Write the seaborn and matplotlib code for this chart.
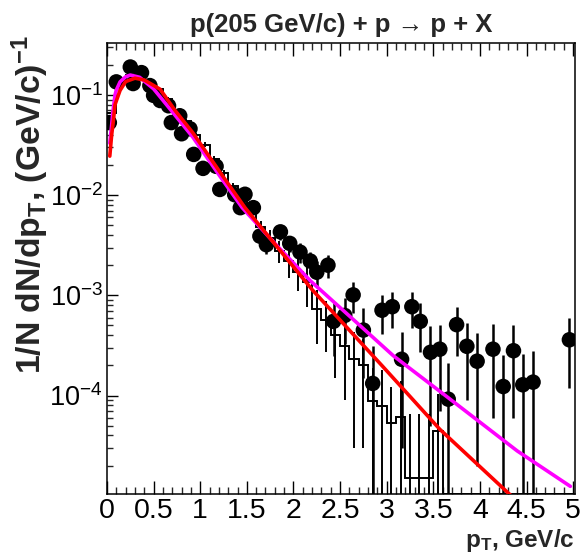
import numpy as np
import pandas as pd
import matplotlib
matplotlib.use("Agg")
import matplotlib.pyplot as plt
import seaborn as sns
from matplotlib.ticker import LogLocator, MultipleLocator, FuncFormatter, NullFormatter, LogFormatterSciNotation

# ---------------- data ----------------
pt_data = [0.025, 0.10, 0.25, 0.28, 0.37, 0.46, 0.50, 0.57, 0.66, 0.69, 0.78, 0.80, 0.89, 0.93,
           1.03, 1.17, 1.21, 1.37, 1.43, 1.48, 1.57, 1.64, 1.71, 1.86, 1.96, 2.07, 2.18, 2.25,
           2.37, 2.43, 2.55, 2.64, 2.75, 2.85, 2.95, 3.06, 3.16, 3.27, 3.36, 3.47, 3.57, 3.66,
           3.75, 3.86, 3.97, 4.14, 4.25, 4.36, 4.46, 4.57, 4.96]
y_data = [0.053, 0.135, 0.19, 0.13, 0.167, 0.124, 0.099, 0.088, 0.078, 0.053, 0.062, 0.041, 0.046, 0.0255,
          0.0185, 0.0194, 0.0114, 0.0101, 0.0075, 0.0102, 0.0075, 0.0039, 0.0032, 0.0043, 0.0033, 0.0027, 0.0022, 0.0017,
          0.0020, 5.5e-4, 6.3e-4, 1.01e-3, 4.5e-4, 1.32e-4, 7.1e-4, 7.7e-4, 2.3e-4, 7.7e-4, 5.5e-4, 2.7e-4, 2.9e-4, 9.2e-5,
          5.1e-4, 3.1e-4, 2.2e-4, 2.9e-4, 1.23e-4, 2.8e-4, 1.28e-4, 1.36e-4, 3.6e-4]
err_data = [0.003, 0.006, 0.008, 0.006, 0.007, 0.005, 0.004, 0.004, 0.004, 0.003, 0.003, 0.002, 0.002, 0.0015,
            0.0012, 0.0012, 0.0009, 0.0009, 0.0008, 0.0009, 0.0009, 0.0006, 0.0006, 0.0007, 0.0006, 0.0006, 0.0005, 0.0005,
            0.0005, 3.0e-4, 3.0e-4, 3.5e-4, 3.0e-4, 1.8e-4, 3.0e-4, 3.0e-4, 2.0e-4, 3.0e-4, 2.8e-4, 2.2e-4, 2.2e-4, 1.2e-4,
            2.6e-4, 2.2e-4, 2.0e-4, 2.3e-4, 1.3e-4, 2.2e-4, 1.3e-4, 1.4e-4, 2.4e-4]

# histogram, bins of 0.1 GeV/c from 0 to 5
hist_vals = [0.066, 0.14, 0.158, 0.15, 0.132, 0.114, 0.092, 0.070, 0.055, 0.040,
             0.032, 0.023, 0.0167, 0.0123, 0.0092, 0.0066, 0.0048, 0.0037, 0.0028, 0.0022,
             0.0017, 0.00137, 0.00073, 0.00057, 0.00040, 0.00031, 0.00023, 0.00020, 8.8e-5, 7.9e-5,
             5.3e-5, 6.1e-5, 1.5e-5, 1.5e-5, 1.5e-5, 4.4e-5, 0, 0, 0, 0,
             0, 0, 0, 0, 0, 0, 0, 0, 0, 0]
hist_err = [0.003, 0.005, 0.005, 0.005, 0.005, 0.004, 0.004, 0.003, 0.003, 0.002,
            0.002, 0.0015, 0.0012, 0.001, 0.0008, 0.0008, 0.0007, 0.0008, 0.0007, 0.0007,
            0.0006, 0.0006, 0.0004, 0.0003, 0.00025, 0.00022, 0.0002, 0.00017, 0.0001, 0.0001,
            7e-5, 8e-5, 5e-5, 5e-5, 5e-5, 6e-5, 0, 0, 0, 0,
            0, 0, 0, 0, 0, 0, 0, 0, 0, 0]
hist_edges = np.round(np.arange(0, 5.0001, 0.1), 2)

# fitted curves
mag_x = [0.03, 0.05, 0.061, 0.086, 0.10, 0.14, 0.20, 0.25, 0.35, 0.50, 0.70, 0.92, 1.20, 1.45, 1.80,
         2.18, 2.61, 3.07, 3.68, 4.40, 4.97]
mag_y = [0.033, 0.05, 0.065, 0.100, 0.112, 0.135, 0.152, 0.158, 0.150, 0.115, 0.068, 0.038, 0.016, 0.0075, 0.0033,
         1.4e-3, 6.1e-4, 2.5e-4, 9.2e-5, 2.8e-5, 1.24e-5]
red_x = [0.03, 0.05, 0.068, 0.086, 0.14, 0.20, 0.30, 0.40, 0.57, 0.73, 0.92, 1.20, 1.48, 2.20, 2.96, 3.57, 4.34]
red_y = [0.0245, 0.04, 0.055, 0.080, 0.111, 0.136, 0.147, 0.141, 0.114, 0.070, 0.042, 0.0176, 0.0075,
         1.14e-3, 1.94e-4, 4.6e-5, 9.9e-6]

title_text = "p(205 GeV/c) + p \u2192 p + X"
ylabel_text = "1/N dN/dp$_{\\mathbf{T}}$, (GeV/c)$^{\\mathbf{-1}}$"
xlabel_text = "p$_{\\mathbf{T}}$, GeV/c"

# ---------------- style ----------------
sns.set_theme(style="ticks")
plt.rcParams.update({
    "font.family": ["Liberation Sans", "DejaVu Sans"],
    "mathtext.fontset": "custom",
    "mathtext.rm": "Liberation Sans",
    "mathtext.it": "Liberation Sans:italic",
    "mathtext.bf": "Liberation Sans:bold",
    "axes.linewidth": 1.1,
})

YMIN, YMAX = 1.04e-5, 0.33

fig = plt.figure(figsize=(5.83, 5.56), dpi=100)
ax = fig.add_axes([107 / 583, 1 - 494 / 556, 468 / 583, 451 / 556])
ax.set_yscale("log")

# histogram (steps + error bars)
hv = np.array(hist_vals, dtype=float)
ax.stairs(np.where(hv > 0, hv, YMIN), hist_edges, color="black", lw=1.4, baseline=None, zorder=2)
centers = 0.5 * (hist_edges[:-1] + hist_edges[1:])
mask = hv > 0
ax.errorbar(centers[mask], hv[mask], yerr=np.array(hist_err)[mask], fmt="none",
            ecolor="black", elinewidth=1.4, capsize=0, zorder=2)

# data points
df = pd.DataFrame({"pt": pt_data, "y": y_data, "err": err_data})
ax.errorbar(df["pt"], df["y"], yerr=df["err"], fmt="none", ecolor="black",
            elinewidth=1.8, capsize=0, zorder=3)
sns.scatterplot(data=df, x="pt", y="y", ax=ax, color="black", s=125, edgecolor="none",
                zorder=4, legend=False)

# curves
sns.lineplot(x=mag_x, y=mag_y, ax=ax, color="#ff00ff", lw=2.6, sort=False, estimator=None, zorder=5)
sns.lineplot(x=red_x, y=red_y, ax=ax, color="#ff0000", lw=2.6, sort=False, estimator=None, zorder=6)

ax.set_xlim(0, 5.02)
ax.set_ylim(YMIN, YMAX)

ax.xaxis.set_major_locator(MultipleLocator(0.5))
ax.xaxis.set_minor_locator(MultipleLocator(0.1))
ax.xaxis.set_major_formatter(FuncFormatter(lambda v, p: f"{v:g}"))
ax.yaxis.set_major_locator(LogLocator(base=10, numticks=10))
ax.yaxis.set_minor_locator(LogLocator(base=10, subs=np.arange(2, 10), numticks=20))
ax.yaxis.set_major_formatter(LogFormatterSciNotation())
ax.yaxis.set_minor_formatter(NullFormatter())

ax.tick_params(axis="x", which="major", direction="in", top=True, bottom=True, length=9.5,
               width=1.0, labelsize=20.5, pad=3, colors="black")
ax.tick_params(axis="x", which="minor", direction="in", top=True, bottom=True, length=5, width=1.0)
ax.tick_params(axis="y", which="major", direction="in", left=True, right=False, length=8,
               width=1.0, labelsize=19.5, pad=3, colors="black")
ax.tick_params(axis="y", which="minor", direction="in", left=True, right=False, length=4, width=1.0)
for s in ax.spines.values():
    s.set_color("black")
    s.set_visible(True)

ax.set_xlabel("")
ax.set_ylabel("")
fig.text((107 + 575) / 2 / 583, 1 - 25 / 556, title_text, ha="center", va="center",
         fontsize=18.5, fontweight="bold")
fig.text(575 / 583, 2 / 556, xlabel_text, ha="right", va="bottom",
         fontsize=17.5, fontweight="bold")
fig.text(30 / 583, 1 - 35 / 556, ylabel_text, ha="center", va="top", rotation=90,
         fontsize=24.3, fontweight="bold")

fig.savefig("out.png", dpi=100)
